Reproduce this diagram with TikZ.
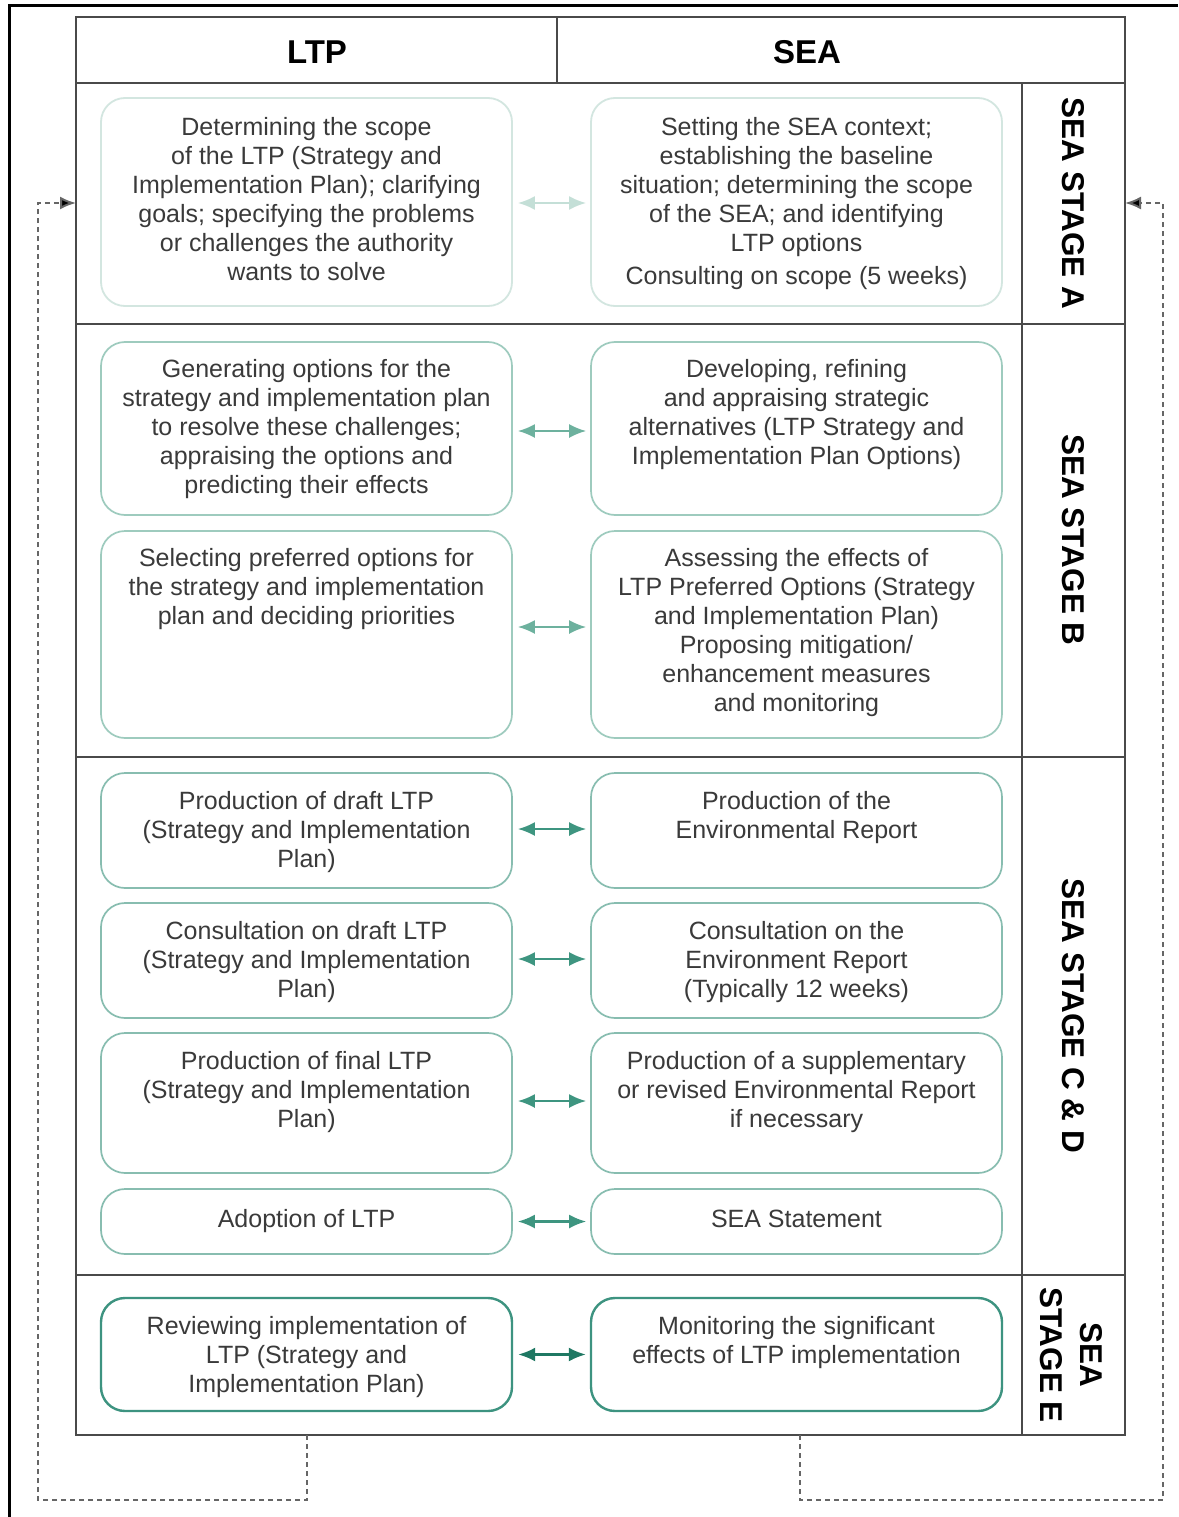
\documentclass[tikz,border=0pt]{standalone}
\usepackage{fontspec}
\setmainfont{Liberation Sans}
\usetikzlibrary{arrows.meta}
\definecolor{txtc}{HTML}{3A3A3A}
\definecolor{tblc}{HTML}{4A4A4A}
\definecolor{bA}{HTML}{D3E6E0}
\definecolor{bB}{HTML}{9ECBBE}
\definecolor{bC}{HTML}{88BDB0}
\definecolor{bE}{HTML}{3D9380}
\definecolor{aA}{HTML}{C4DFD7}
\definecolor{aB}{HTML}{6DB19E}
\definecolor{aC}{HTML}{3E9580}
\definecolor{aE}{HTML}{1F7863}
\definecolor{fbc}{HTML}{666666}
\begin{document}
\begin{tikzpicture}[x=1pt,y=-1pt,
  tbl/.style={draw=tblc, line width=1.5pt},
  box/.style={draw, rounded corners=24pt, minimum width=411pt, inner sep=0pt, fill=white},
  boxA/.style={box, draw=bA, line width=1.8pt},
  boxB/.style={box, draw=bB, line width=1.7pt},
  boxC/.style={box, draw=bC, line width=1.7pt},
  boxE/.style={box, draw=bE, line width=2.4pt},
  tx/.style={anchor=north, inner sep=0pt, align=center, font=\fontsize{25}{29}\selectfont, text=txtc, execute at begin node=\strut},
  biarr/.style={{Latex[length=17pt,width=14pt]}-{Latex[length=17pt,width=14pt]}, line width=2.2pt},
  stagelbl/.style={rotate=-90, font=\bfseries\fontsize{31.5}{40}\selectfont, align=center, text=black, inner sep=0pt},
  hdr/.style={font=\bfseries\fontsize{33}{38}\selectfont, text=black, inner sep=0pt},
  fb/.style={draw=fbc, line width=2pt, dash pattern=on 5pt off 4pt, -{Latex[length=16pt,width=13pt,fill=black]}}
]
\useasboundingbox (0,0) rectangle (1178,1517);
\fill[white] (0,0) rectangle (1178,1517);
% outer black frame (top and left)
\draw[line width=3pt, black] (9,1517) -- (9,6) -- (1178,6);

% table
\draw[tbl] (76,17) rectangle (1125,1435);
\draw[tbl] (76,83) -- (1125,83);
\draw[tbl] (557,17) -- (557,83);
\draw[tbl] (1022,83) -- (1022,1435);
\draw[tbl] (76,324) -- (1125,324);
\draw[tbl] (76,757) -- (1125,757);
\draw[tbl] (76,1275) -- (1125,1275);

\node[hdr] (hLTP) at (317,52) {LTP};
\node[hdr] (hSEA) at (807,52) {SEA};

\node[stagelbl] (sA) at (1073.5,203.5) {SEA STAGE A};
\node[stagelbl] (sB) at (1073.5,540) {SEA STAGE B};
\node[stagelbl] (sC) at (1073.5,1016) {SEA STAGE C \& D};
\node[stagelbl] (sE) at (1071.5,1355) {SEA\\STAGE E};

% boxes
\node[boxA, minimum height=208pt] (aL) at (306.5,202) {};
\node[boxA, minimum height=208pt] (aR) at (796.5,202) {};
\node[boxB, minimum height=173pt] (b1L) at (306.5,428.5) {};
\node[boxB, minimum height=173pt] (b1R) at (796.5,428.5) {};
\node[boxB, minimum height=207pt] (b2L) at (306.5,634.5) {};
\node[boxB, minimum height=207pt] (b2R) at (796.5,634.5) {};
\node[boxC, minimum height=115pt] (c1L) at (306.5,830.5) {};
\node[boxC, minimum height=115pt] (c1R) at (796.5,830.5) {};
\node[boxC, minimum height=115pt] (c2L) at (306.5,960.5) {};
\node[boxC, minimum height=115pt] (c2R) at (796.5,960.5) {};
\node[boxC, minimum height=140pt] (c3L) at (306.5,1103) {};
\node[boxC, minimum height=140pt] (c3R) at (796.5,1103) {};
\node[boxC, minimum height=65pt] (c4L) at (306.5,1221.5) {};
\node[boxC, minimum height=65pt] (c4R) at (796.5,1221.5) {};
\node[boxE, minimum height=113pt] (eL) at (306.5,1354.5) {};
\node[boxE, minimum height=113pt] (eR) at (796.5,1354.5) {};

% texts
\node[tx] (taL) at ([yshift=-20pt]aL.north) {Determining the scope\\of the LTP (Strategy and\\Implementation Plan); clarifying\\goals; specifying the problems\\or challenges the authority\\wants to solve};
\node[tx] (taR) at ([yshift=-20pt]aR.north) {Setting the SEA context;\\establishing the baseline\\situation; determining the scope\\of the SEA; and identifying\\LTP options\\[4pt]Consulting on scope (5 weeks)};
\node[tx] (tb1L) at ([yshift=-18pt]b1L.north) {Generating options for the\\strategy and implementation plan\\to resolve these challenges;\\appraising the options and\\predicting their effects};
\node[tx] (tb1R) at ([yshift=-18pt]b1R.north) {Developing, refining\\and appraising strategic\\alternatives (LTP Strategy and\\Implementation Plan Options)};
\node[tx] (tb2L) at ([yshift=-18pt]b2L.north) {Selecting preferred options for\\the strategy and implementation\\plan and deciding priorities};
\node[tx] (tb2R) at ([yshift=-18pt]b2R.north) {Assessing the effects of\\LTP Preferred Options (Strategy\\and Implementation Plan)\\Proposing mitigation/\\enhancement measures\\and monitoring};
\node[tx] (tc1L) at ([yshift=-19pt]c1L.north) {Production of draft LTP\\(Strategy and Implementation\\Plan)};
\node[tx] (tc1R) at ([yshift=-19pt]c1R.north) {Production of the\\Environmental Report};
\node[tx] (tc2L) at ([yshift=-19pt]c2L.north) {Consultation on draft LTP\\(Strategy and Implementation\\Plan)};
\node[tx] (tc2R) at ([yshift=-19pt]c2R.north) {Consultation on the\\Environment Report\\(Typically 12 weeks)};
\node[tx] (tc3L) at ([yshift=-19pt]c3L.north) {Production of final LTP\\(Strategy and Implementation\\Plan)};
\node[tx] (tc3R) at ([yshift=-19pt]c3R.north) {Production of a supplementary\\or revised Environmental Report\\if necessary};
\node[tx] (tc4L) at ([yshift=-19pt]c4L.north) {Adoption of LTP};
\node[tx] (tc4R) at ([yshift=-19pt]c4R.north) {SEA Statement};
\node[tx] (teL) at ([yshift=-19pt]eL.north) {Reviewing implementation of\\LTP (Strategy and\\Implementation Plan)};
\node[tx] (teR) at ([yshift=-19pt]eR.north) {Monitoring the significant\\effects of LTP implementation};

% double arrows
\draw[biarr, color=aA] ([xshift=5pt,yshift=-1pt]aL.east) -- ([xshift=-4pt,yshift=-1pt]aR.west);
\draw[biarr, color=aB] ([xshift=5pt,yshift=-2.5pt]b1L.east) -- ([xshift=-4pt,yshift=-2.5pt]b1R.west);
\draw[biarr, color=aB] ([xshift=5pt,yshift=7.5pt]b2L.east) -- ([xshift=-4pt,yshift=7.5pt]b2R.west);
\draw[biarr, color=aC] ([xshift=5pt,yshift=1.5pt]c1L.east) -- ([xshift=-4pt,yshift=1.5pt]c1R.west);
\draw[biarr, color=aC] ([xshift=5pt,yshift=1.5pt]c2L.east) -- ([xshift=-4pt,yshift=1.5pt]c2R.west);
\draw[biarr, color=aC] ([xshift=5pt,yshift=2pt]c3L.east) -- ([xshift=-4pt,yshift=2pt]c3R.west);
\draw[biarr, color=aC] ([xshift=5pt]c4L.east) -- ([xshift=-4pt]c4R.west);
\draw[biarr, color=aE] ([xshift=5pt]eL.east) -- ([xshift=-4pt]eR.west);

% feedback loops
\coordinate (tblBL) at (307,1435);
\coordinate (tblBR) at (800,1435);
\coordinate (tblL) at (76,203);
\coordinate (tblR) at (1125,203);
\draw[fb] (tblBL) -- ++(0,65) -- ++(-269,0) |- (tblL);
\draw[fb] (tblBR) -- ++(0,65) -- ++(363,0) |- (tblR);
\end{tikzpicture}
\end{document}
